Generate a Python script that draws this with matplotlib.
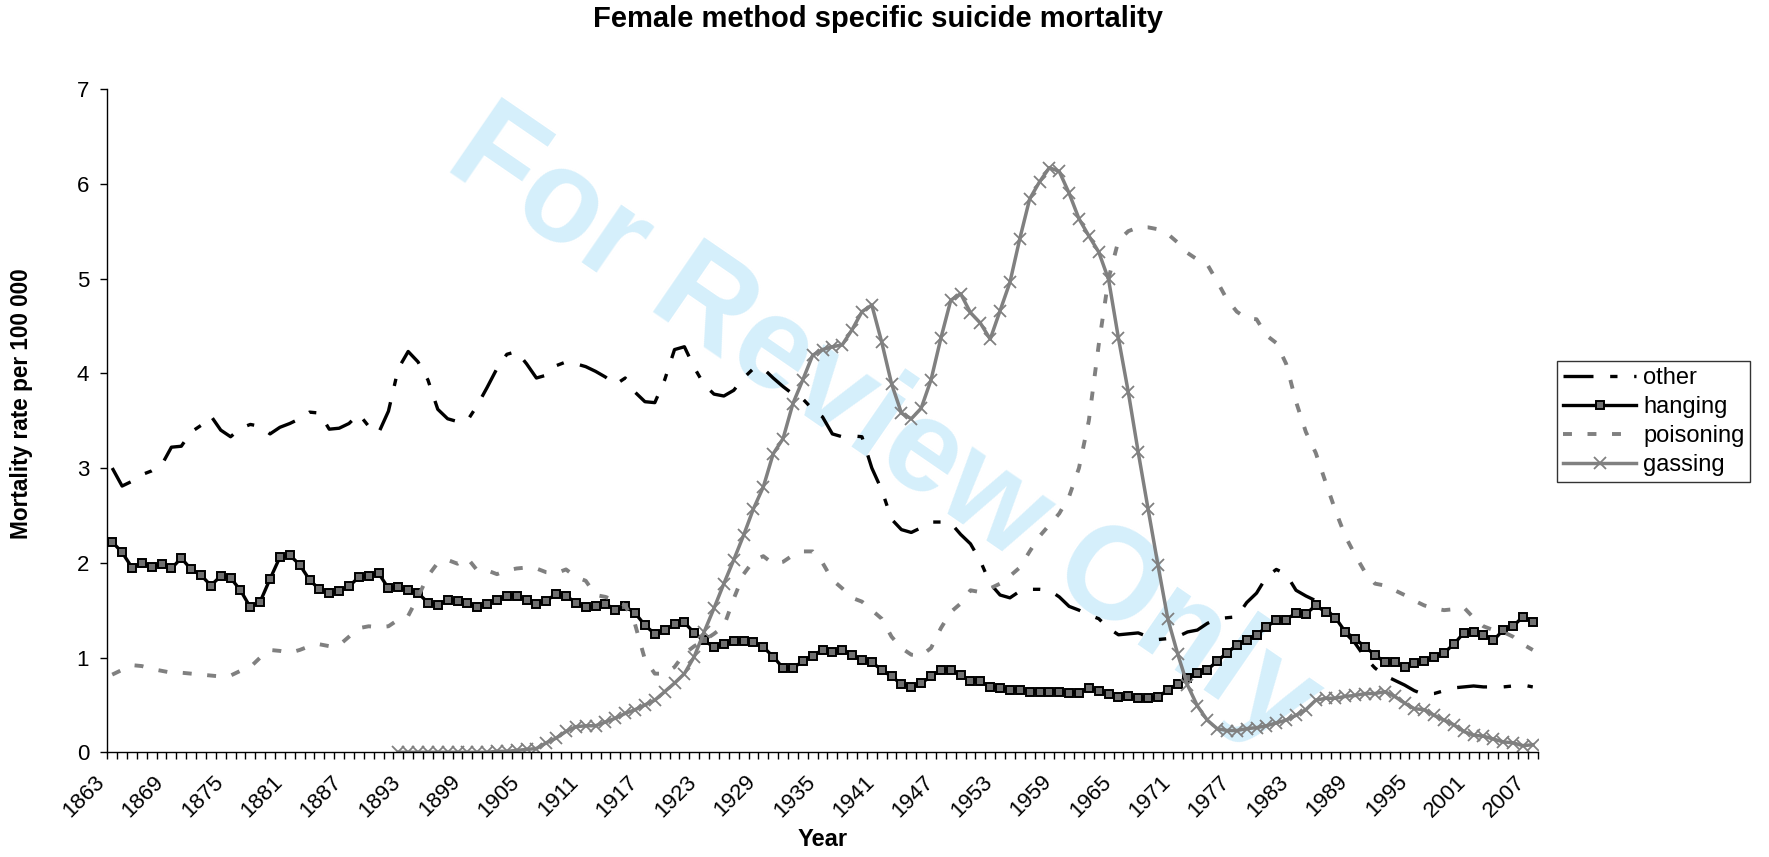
import numpy as np
import matplotlib
matplotlib.use("Agg")
import matplotlib.pyplot as plt
import matplotlib.transforms as mtransforms

# ---------------- data ----------------
years = list(range(1863, 2008))

other = [
    3.00, 2.81, 2.86, 2.93, 2.97, 3.03, 3.22, 3.23, 3.38, 3.45,
    3.55, 3.40, 3.33, 3.42, 3.46, 3.44, 3.36, 3.43, 3.47, 3.52,
    3.59, 3.58, 3.41, 3.42, 3.47, 3.57, 3.44, 3.37, 3.60, 4.05,
    4.23, 4.12, 3.93, 3.62, 3.52, 3.49, 3.50, 3.66, 3.85, 4.05,
    4.20, 4.23, 4.10, 3.95, 3.98, 4.08, 4.12, 4.10, 4.07, 4.02,
    3.96, 3.88, 3.95, 3.80, 3.70, 3.69, 3.93, 4.25, 4.28, 4.06,
    3.88, 3.78, 3.76, 3.82, 3.95, 4.05, 4.05, 3.95, 3.86, 3.78,
    3.73, 3.62, 3.54, 3.36, 3.33, 3.34, 3.33, 3.00, 2.77, 2.46,
    2.35, 2.32, 2.37, 2.43, 2.43, 2.42, 2.30, 2.20, 2.02, 1.78,
    1.66, 1.63, 1.70, 1.72, 1.72, 1.71, 1.64, 1.54, 1.50, 1.45,
    1.41, 1.31, 1.24, 1.25, 1.26, 1.22, 1.19, 1.20, 1.22, 1.27,
    1.29, 1.36, 1.41, 1.42, 1.43, 1.58, 1.68, 1.85, 1.93, 1.88,
    1.71, 1.65, 1.60, 1.53, 1.40, 1.26, 1.15, 1.00, 0.89, 0.81,
    0.76, 0.71, 0.65, 0.61, 0.62, 0.65, 0.68, 0.69, 0.70, 0.69,
    0.69, 0.69, 0.70, 0.71, 0.69,
]

hanging = [
    2.22, 2.11, 1.95, 2.00, 1.96, 1.99, 1.94, 2.05, 1.93, 1.87,
    1.76, 1.86, 1.84, 1.71, 1.53, 1.59, 1.83, 2.06, 2.08, 1.98,
    1.82, 1.72, 1.68, 1.70, 1.75, 1.85, 1.86, 1.89, 1.73, 1.74,
    1.71, 1.68, 1.58, 1.55, 1.61, 1.60, 1.58, 1.53, 1.57, 1.61,
    1.65, 1.65, 1.61, 1.57, 1.60, 1.67, 1.65, 1.58, 1.53, 1.54,
    1.57, 1.50, 1.54, 1.47, 1.34, 1.25, 1.29, 1.35, 1.37, 1.26,
    1.18, 1.11, 1.14, 1.17, 1.17, 1.16, 1.11, 1.01, 0.89, 0.89,
    0.96, 1.02, 1.08, 1.06, 1.08, 1.03, 0.97, 0.95, 0.87, 0.80,
    0.72, 0.69, 0.73, 0.80, 0.87, 0.87, 0.82, 0.75, 0.75, 0.69,
    0.68, 0.66, 0.66, 0.64, 0.64, 0.64, 0.64, 0.63, 0.63, 0.68,
    0.65, 0.61, 0.58, 0.59, 0.57, 0.57, 0.58, 0.66, 0.72, 0.78,
    0.84, 0.87, 0.96, 1.05, 1.13, 1.19, 1.24, 1.32, 1.40, 1.40,
    1.47, 1.46, 1.55, 1.48, 1.42, 1.27, 1.20, 1.11, 1.03, 0.95,
    0.95, 0.90, 0.94, 0.96, 1.01, 1.05, 1.14, 1.26, 1.27, 1.24,
    1.18, 1.29, 1.33, 1.43, 1.38,
]

poisoning = [
    0.82, 0.87, 0.92, 0.91, 0.88, 0.86, 0.84, 0.84, 0.83, 0.82,
    0.81, 0.80, 0.81, 0.86, 0.90, 1.00, 1.08, 1.07, 1.05, 1.08,
    1.12, 1.14, 1.12, 1.13, 1.22, 1.31, 1.33, 1.32, 1.33, 1.40,
    1.44, 1.64, 1.86, 2.00, 2.03, 1.99, 2.05, 1.92, 1.92, 1.88,
    1.92, 1.94, 1.95, 1.94, 1.90, 1.89, 1.93, 1.85, 1.81, 1.66,
    1.64, 1.60, 1.55, 1.35, 0.98, 0.83, 0.83, 0.90, 1.04, 1.12,
    1.18, 1.25, 1.33, 1.62, 1.88, 2.02, 2.07, 1.99, 2.01, 2.08,
    2.12, 2.12, 2.00, 1.82, 1.73, 1.63, 1.59, 1.50, 1.41, 1.22,
    1.10, 1.03, 1.02, 1.10, 1.31, 1.48, 1.57, 1.71, 1.69, 1.73,
    1.78, 1.86, 1.95, 2.12, 2.28, 2.40, 2.52, 2.70, 3.00, 3.50,
    4.30, 5.00, 5.40, 5.50, 5.54, 5.54, 5.52, 5.47, 5.38, 5.27,
    5.20, 5.15, 4.97, 4.78, 4.65, 4.58, 4.57, 4.40, 4.32, 4.10,
    3.70, 3.38, 3.16, 2.85, 2.55, 2.28, 2.08, 1.90, 1.78, 1.76,
    1.71, 1.66, 1.60, 1.55, 1.52, 1.50, 1.51, 1.53, 1.42, 1.33,
    1.29, 1.27, 1.22, 1.14, 1.08,
]

gassing = [np.nan] * 29 + [
    0.00, 0.00, 0.00, 0.00, 0.00, 0.00, 0.00, 0.00, 0.00, 0.00,
    0.01, 0.01, 0.02, 0.03, 0.04, 0.10, 0.15, 0.22, 0.27, 0.28,
    0.28, 0.32, 0.36, 0.41, 0.45, 0.50, 0.55, 0.64, 0.73, 0.83,
    1.01, 1.27, 1.52, 1.78, 2.03, 2.29, 2.57, 2.80, 3.15, 3.31,
    3.68, 3.93, 4.19, 4.25, 4.28, 4.30, 4.46, 4.65, 4.72, 4.33,
    3.89, 3.58, 3.52, 3.63, 3.93, 4.37, 4.77, 4.84, 4.64, 4.53,
    4.36, 4.66, 4.96, 5.42, 5.84, 6.02, 6.17, 6.13, 5.90, 5.63,
    5.45, 5.28, 4.99, 4.37, 3.80, 3.17, 2.57, 1.98, 1.41, 1.04,
    0.71, 0.49, 0.34, 0.25, 0.23, 0.23, 0.25, 0.26, 0.28, 0.31,
    0.34, 0.39, 0.45, 0.55, 0.57, 0.57, 0.59, 0.60, 0.62, 0.62,
    0.64, 0.59, 0.52, 0.46, 0.45, 0.39, 0.34, 0.29, 0.22, 0.18,
    0.17, 0.14, 0.11, 0.10, 0.07, 0.08,
]

series_labels = ["other", "hanging", "poisoning", "gassing"]
label_years = years[::6]
y_ticks = list(range(0, 8))

# ---------------- figure ----------------
plt.rcParams["font.family"] = ["Liberation Sans", "DejaVu Sans"]

W, H = 1769, 857
fig = plt.figure(figsize=(W / 100, H / 100), dpi=100)
fig.patch.set_facecolor("white")

left, right, bottom, top = 107.3, 1537.7, 752.3, 89.0
ax = fig.add_axes([left / W, 1 - bottom / H, (right - left) / W, (bottom - top) / H])
ax.patch.set_alpha(0)
ax.set_zorder(1)

# watermark behind the data
fig.text(883 / W, 1 - 428 / H, "For Review Only", rotation=-34.5,
         fontsize=94, fontweight="bold", color="#d5effb",
         ha="center", va="center", zorder=0)

ax.plot(years, other, color="black", lw=2.4, dashes=(9, 5, 2.2, 5),
        label=series_labels[0])
ax.plot(years, hanging, color="black", lw=2.4, marker="s", ms=5.2,
        mfc="#707070", mec="black", mew=1.4, label=series_labels[1])
ax.plot(years, poisoning, color="#808080", lw=2.8, dashes=(2.3, 4.0),
        label=series_labels[2])
ax.plot(years, gassing, color="#808080", lw=2.5, marker="x", ms=9,
        mew=1.3, label=series_labels[3])

ax.set_xlim(years[0] - 0.5, years[-1] + 0.5)
ax.set_ylim(0, 7)

for s in ("top", "right"):
    ax.spines[s].set_visible(False)
for s in ("left", "bottom"):
    ax.spines[s].set_color("black")
    ax.spines[s].set_linewidth(1.0)

ax.set_yticks(y_ticks)
ax.set_yticklabels([str(v) for v in y_ticks], fontsize=16)
ax.tick_params(axis="y", length=5, width=1, direction="out", pad=8)

ax.set_xticks(label_years)
ax.set_xticklabels([str(y) for y in label_years], fontsize=16,
                   rotation=45, ha="right", va="top", rotation_mode="anchor")
ax.set_xticks(np.arange(years[0] - 0.5, years[-1] + 1.0, 1.0), minor=True)
ax.tick_params(axis="x", which="major", length=0, pad=10)
ax.tick_params(axis="x", which="minor", length=5, width=1, direction="out")
shift = mtransforms.ScaledTranslation(-18 / 100, -5 / 100, fig.dpi_scale_trans)
for lbl in ax.get_xticklabels():
    lbl.set_transform(lbl.get_transform() + shift)

fig.text(0.4965, 1 - 19 / H, "Female method specific suicide mortality",
         fontsize=21, fontweight="bold", ha="center", va="center")
fig.text(823 / W, 1 - 839 / H, "Year", fontsize=17, fontweight="bold",
         ha="center", va="center")
fig.text(22 / W, 1 - 404 / H, "Mortality rate per 100 000", fontsize=16.3,
         fontweight="bold", rotation=90, ha="center", va="center")

leg = ax.legend(loc="upper left", bbox_to_anchor=(1557 / W, 1 - 361 / H),
                bbox_transform=fig.transFigure, frameon=True, fancybox=False,
                edgecolor="black", fontsize=17, handlelength=3.1,
                handletextpad=0.3, labelspacing=0.3, borderpad=0.25,
                borderaxespad=0)
leg.get_frame().set_linewidth(1.0)

fig.savefig("out.png", dpi=100)
